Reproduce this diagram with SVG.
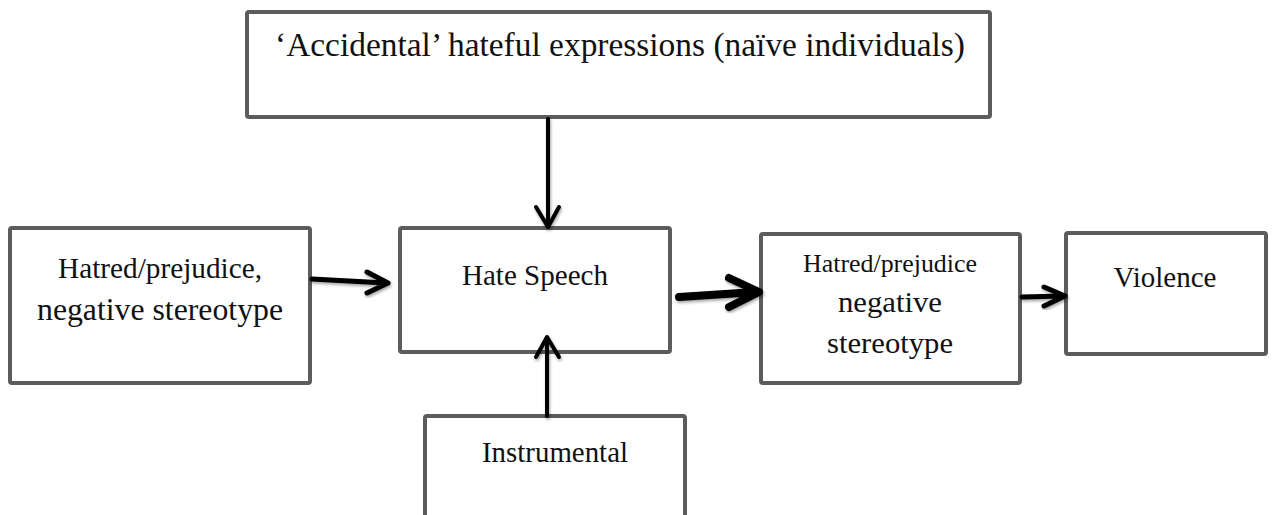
<svg xmlns="http://www.w3.org/2000/svg" width="1274" height="515" viewBox="0 0 1274 515">
  <defs>
    <filter id="soft" x="-20%" y="-20%" width="140%" height="140%">
      <feDropShadow dx="1" dy="2" stdDeviation="1.5" flood-color="#000" flood-opacity="0.35"/>
    </filter>
  </defs>
  <style>
    .box { fill: #ffffff; stroke: #5c5c5c; stroke-width: 4; }
    .lbl { font-family: "Liberation Serif", "Times New Roman", serif; fill: #111; text-anchor: middle; }
    .wire { fill: none; stroke: #000; stroke-linecap: round; stroke-linejoin: round; filter: url(#soft); }
  </style>
  <rect width="1274" height="515" fill="#ffffff"/>

  <!-- nodes -->
  <g id="node-accidental">
    <rect class="box" x="247" y="12" width="743" height="105" rx="2"/>
    <text class="lbl" x="620" y="56" font-size="33" textLength="690" lengthAdjust="spacingAndGlyphs">‘Accidental’ hateful expressions (naïve individuals)</text>
  </g>
  <g id="node-prejudice-in">
    <rect class="box" x="10" y="228" width="300" height="155" rx="2"/>
    <text class="lbl" x="160" y="278" font-size="29" textLength="204" lengthAdjust="spacingAndGlyphs">Hatred/prejudice,</text>
    <text class="lbl" x="160" y="320" font-size="31" textLength="246" lengthAdjust="spacingAndGlyphs">negative stereotype</text>
  </g>
  <g id="node-hate-speech">
    <rect class="box" x="400" y="228" width="270" height="124" rx="2"/>
    <text class="lbl" x="535" y="285" font-size="29" textLength="146" lengthAdjust="spacingAndGlyphs">Hate Speech</text>
  </g>
  <g id="node-prejudice-out">
    <rect class="box" x="761" y="234" width="259" height="149" rx="2"/>
    <text class="lbl" x="890" y="272" font-size="25" textLength="174" lengthAdjust="spacingAndGlyphs">Hatred/prejudice</text>
    <text class="lbl" x="890" y="312" font-size="30" textLength="104" lengthAdjust="spacingAndGlyphs">negative</text>
    <text class="lbl" x="890" y="353" font-size="30" textLength="126" lengthAdjust="spacingAndGlyphs">stereotype</text>
  </g>
  <g id="node-violence">
    <rect class="box" x="1066" y="233" width="200" height="121" rx="2"/>
    <text class="lbl" x="1165" y="287" font-size="29" textLength="103" lengthAdjust="spacingAndGlyphs">Violence</text>
  </g>
  <g id="node-instrumental">
    <rect class="box" x="425" y="416" width="260" height="130" rx="2"/>
    <text class="lbl" x="555" y="462" font-size="29" textLength="146" lengthAdjust="spacingAndGlyphs">Instrumental</text>
  </g>

  <!-- connectors -->
  <g id="connectors">
    <path class="wire" stroke-width="4" d="M548,119 L548,226 M536,207 L548,227 L559,207"/>
    <path class="wire" stroke-width="4" d="M547,416 L547,338 M536,357 L547,337 L559,357"/>
    <path class="wire" stroke-width="5" d="M312,279 L386,283 M367,272 L388,283 L367,293"/>
    <path class="wire" stroke-width="8" d="M679,297 L756,292 M729,278 L759,292 L729,307"/>
    <path class="wire" stroke-width="5" d="M1022,297 L1063,296 M1044,287 L1065,296 L1044,306"/>
  </g>
</svg>
